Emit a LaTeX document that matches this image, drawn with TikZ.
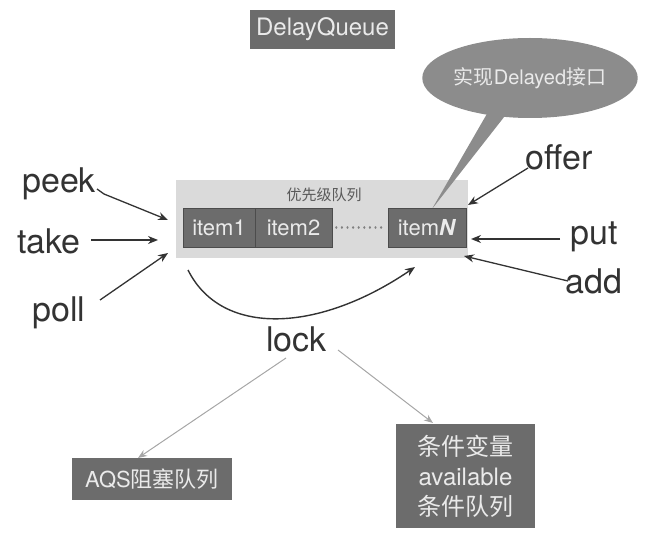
\documentclass[tikz,border=0pt]{standalone}
\usepackage{fontspec}
\setmainfont{TeX Gyre Heros}
\newfontfamily\cjk{Noto Sans CJK SC}
\usetikzlibrary{arrows.meta,shapes.geometric}
\definecolor{boxgray}{HTML}{6C6C6C}
\definecolor{bggray}{HTML}{DADADA}
\definecolor{ellgray}{HTML}{8C8C8C}
\definecolor{linegray}{HTML}{A6A6A6}
\definecolor{inkgray}{HTML}{333333}
\definecolor{txtlight}{HTML}{EAEAEA}
\tikzset{
  darkbox/.style={fill=boxgray, draw=black!70, line width=0.5pt, text=txtlight, inner sep=0pt},
  bigword/.style={font=\fontsize{34}{40}\selectfont, inner sep=0pt, anchor=base west, text=inkgray},
  arr/.style={draw=inkgray, line width=1.3pt, -{Stealth[length=10pt,width=8pt]}},
  greyarr/.style={draw=linegray, line width=1pt, -{Stealth[length=9pt,width=7pt]}},
}
\begin{document}
\begin{tikzpicture}[x=1pt,y=-1pt]
\useasboundingbox (0,0) rectangle (653,545);

% title
\node[darkbox, draw=none, minimum width=145pt, minimum height=39pt, font=\fontsize{24}{28}\selectfont] (dq) at (322.5,29.5) {DelayQueue};

% priority queue background
\node[fill=bggray, minimum width=292pt, minimum height=78pt, inner sep=0pt] (pq) at (322,219) {};
\node[font=\cjk\fontsize{15}{18}\selectfont, text=black!65, inner sep=0pt] (pql) at (324,195) {优先级队列};

% callout tail
\fill[ellgray] (488,112) -- (508,112) -- (432,209) -- cycle;

% items
\node[darkbox, minimum width=72pt, minimum height=39pt, font=\fontsize{22}{26}\selectfont] (item1) at (219,227.5) {item1};
\node[darkbox, minimum width=77pt, minimum height=39pt, font=\fontsize{22}{26}\selectfont] (item2) at (293.5,227.5) {item2};
\node[darkbox, minimum width=78pt, minimum height=39pt, font=\fontsize{22}{26}\selectfont] (itemN) at (427,227.5) {item\textbf{\textit{N}}};
\draw[black!50, line width=2.2pt, line cap=round, dash pattern=on 0.1pt off 5.5pt] ([xshift=4pt]item2.east) -- ([xshift=-3pt]itemN.west);

% callout ellipse
\node[ellipse, fill=ellgray, minimum width=215pt, minimum height=80pt, inner sep=0pt, text=txtlight, font=\fontsize{20}{24}\selectfont] (ell) at (530,78) {{\cjk 实现}Delayed{\cjk 接口}};

% operation words
\node[bigword] (peek) at (22,193) {peek};
\node[bigword] (take) at (17,254) {take};
\node[bigword] (poll) at (32,321) {poll};
\node[bigword] (offer) at (525,170) {offer};
\node[bigword] (put) at (570,245) {put};
\node[bigword] (add) at (565,294) {add};
\node[bigword] (lock) at (266,351) {lock};

\coordinate (peekS) at (97,189);
\coordinate (peekB) at (104,194);
\coordinate (peekE) at (168,220);
\coordinate (takeS) at (91,240);
\coordinate (takeE) at (158,240);
\coordinate (pollS) at (100,300);
\coordinate (pollE) at (168,253);
\coordinate (offerS) at (528,168);
\coordinate (offerE) at (468,205);
\coordinate (putS) at (560,239);
\coordinate (putE) at (471,239);
\coordinate (addS) at (568,281);
\coordinate (addE) at (464,256);

\draw[arr] (peekS) -- (peekB) -- (peekE);
\draw[arr] (takeS) -- (takeE);
\draw[arr] (pollS) -- (pollE);
\draw[arr] (offerS) -- (offerE);
\draw[arr] (putS) -- (putE);
\draw[arr] (addS) -- (addE);

% rotating curve
\coordinate (cS) at (188,270);
\coordinate (cE) at (415,267);
\draw[arr, line width=1.4pt] (cS) .. controls (222,338) and (320,332) .. (cE);

% bottom boxes
\node[darkbox, draw=none, minimum width=160pt, minimum height=42pt, font=\fontsize{22}{26}\selectfont] (aqs) at (152,479) {AQS{\cjk 阻塞队列}};
\node[darkbox, draw=none, minimum width=139pt, minimum height=104pt, align=center, font=\fontsize{24}{30}\selectfont] (cond) at (465.5,476) {{\cjk 条件变量}\\available\\{\cjk 条件队列}};

\coordinate (lockL) at (286,358);
\coordinate (lockR) at (338,350);
\coordinate (aqsT) at (138,458);
\coordinate (condT) at (433,423);
\draw[greyarr] (lockL) -- (aqsT);
\draw[greyarr] (lockR) -- (condT);
\end{tikzpicture}
\end{document}
